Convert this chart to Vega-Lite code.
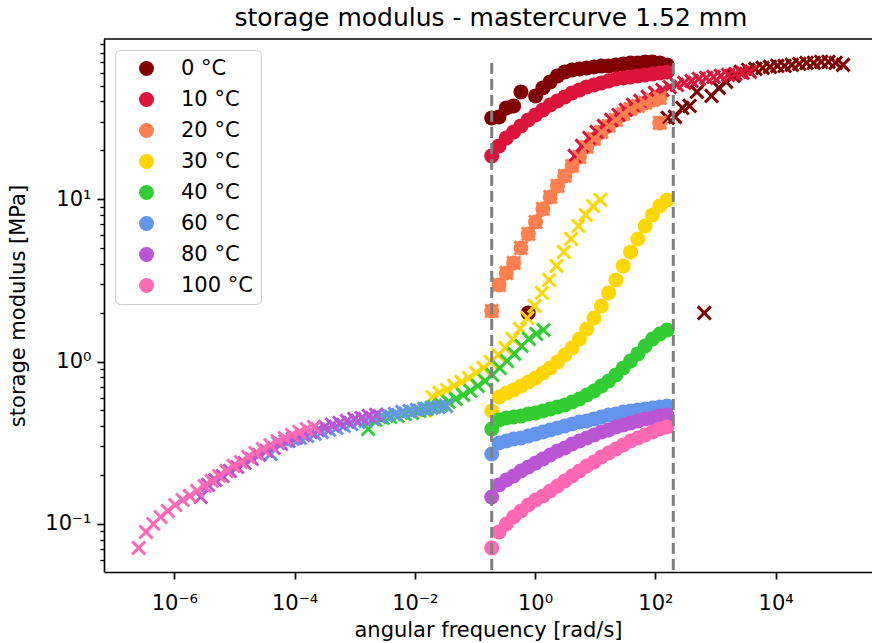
{
  "$schema": "https://vega.github.io/schema/vega-lite/v6.json",
  "width": 768,
  "height": 533,
  "autosize": "none",
  "padding": {"left": 104, "top": 39, "right": 0, "bottom": 71},
  "background": "white",
  "config": {
    "view": {"stroke": null},
    "font": "DejaVu Sans",
    "axis": {
      "domainColor": "black", "domainWidth": 1.7, "tickColor": "black", "tickWidth": 1.7, "tickSize": 7,
      "labelFont": "DejaVu Sans", "labelFontSize": 21, "labelColor": "black", "labelPadding": 6,
      "titleFont": "DejaVu Sans", "titleFontSize": 21, "titleFontWeight": "normal", "titleColor": "black",
      "grid": false, "labelFlush": false, "labelOverlap": false, "labelBound": false
    }
  },
  "title": {
    "text": "storage modulus - mastercurve 1.52 mm",
    "font": "DejaVu Sans", "fontSize": 25, "fontWeight": "normal", "color": "black",
    "anchor": "middle", "offset": 2, "dx": 3
  },
  "datasets": {
    "pts": [
      {"T":"0 °C","w":0.1901,"ws":160.7,"G":31.68},
      {"T":"0 °C","w":0.2515,"ws":212.6,"G":32.13},
      {"T":"0 °C","w":0.3327,"ws":281.2,"G":36.50},
      {"T":"0 °C","w":0.4400,"ws":372.0,"G":37.55},
      {"T":"0 °C","w":0.5821,"ws":492.0,"G":45.81},
      {"T":"0 °C","w":0.7700,"ws":650.9,"G":1.994},
      {"T":"0 °C","w":1.0185,"ws":860.9,"G":43.28},
      {"T":"0 °C","w":1.3473,"ws":1138.9,"G":48.49},
      {"T":"0 °C","w":1.7822,"ws":1506.5,"G":52.79},
      {"T":"0 °C","w":2.3576,"ws":1992.8,"G":57.48},
      {"T":"0 °C","w":3.1186,"ws":2636.1,"G":60.84},
      {"T":"0 °C","w":4.1252,"ws":3487,"G":62.58},
      {"T":"0 °C","w":5.4567,"ws":4612.6,"G":63.48},
      {"T":"0 °C","w":7.2181,"ws":6101.5,"G":64.39},
      {"T":"0 °C","w":9.548,"ws":8071.2,"G":65.31},
      {"T":"0 °C","w":12.630,"ws":10677,"G":66.25},
      {"T":"0 °C","w":16.707,"ws":14123,"G":66.25},
      {"T":"0 °C","w":22.100,"ws":18681,"G":67.19},
      {"T":"0 °C","w":29.235,"ws":24713,"G":68.16},
      {"T":"0 °C","w":38.672,"ws":32690,"G":69.12},
      {"T":"0 °C","w":51.155,"ws":43241,"G":69.12},
      {"T":"0 °C","w":67.668,"ws":57200,"G":70.12},
      {"T":"0 °C","w":89.511,"ws":75664,"G":70.12},
      {"T":"0 °C","w":118.41,"ws":100090,"G":69.12},
      {"T":"0 °C","w":156.62,"ws":132394,"G":67.19},

      {"T":"10 °C","w":0.1901,"ws":4.560,"G":18.48},
      {"T":"10 °C","w":0.2515,"ws":6.032,"G":21.30},
      {"T":"10 °C","w":0.3327,"ws":7.979,"G":23.86},
      {"T":"10 °C","w":0.4400,"ws":10.555,"G":25.97},
      {"T":"10 °C","w":0.5821,"ws":13.962,"G":28.29},
      {"T":"10 °C","w":0.7700,"ws":18.469,"G":30.79},
      {"T":"10 °C","w":1.0185,"ws":24.430,"G":33.05},
      {"T":"10 °C","w":1.3473,"ws":32.316,"G":35.48},
      {"T":"10 °C","w":1.7822,"ws":42.748,"G":38.09},
      {"T":"10 °C","w":2.3576,"ws":56.549,"G":40.32},
      {"T":"10 °C","w":3.1186,"ws":74.802,"G":42.67},
      {"T":"10 °C","w":4.1252,"ws":98.947,"G":45.16},
      {"T":"10 °C","w":5.4567,"ws":130.89,"G":47.13},
      {"T":"10 °C","w":7.2181,"ws":173.13,"G":49.18},
      {"T":"10 °C","w":9.548,"ws":229.03,"G":50.58},
      {"T":"10 °C","w":12.630,"ws":302.96,"G":52.04},
      {"T":"10 °C","w":16.707,"ws":400.75,"G":53.54},
      {"T":"10 °C","w":22.100,"ws":530.10,"G":55.08},
      {"T":"10 °C","w":29.235,"ws":701.24,"G":55.88},
      {"T":"10 °C","w":38.672,"ws":927.6,"G":56.67},
      {"T":"10 °C","w":51.155,"ws":1227.0,"G":57.48},
      {"T":"10 °C","w":67.668,"ws":1623.1,"G":58.30},
      {"T":"10 °C","w":89.511,"ws":2147.0,"G":59.14},
      {"T":"10 °C","w":118.41,"ws":2840.1,"G":59.98},
      {"T":"10 °C","w":156.62,"ws":3756.8,"G":60.84},

      {"T":"20 °C","w":0.1901,"ws":0.1901,"G":2.051},
      {"T":"20 °C","w":0.2515,"ws":0.2515,"G":2.966},
      {"T":"20 °C","w":0.3327,"ws":0.3327,"G":3.516},
      {"T":"20 °C","w":0.4400,"ws":0.4400,"G":4.052},
      {"T":"20 °C","w":0.5821,"ws":0.5821,"G":5.012},
      {"T":"20 °C","w":0.7700,"ws":0.7700,"G":6.113},
      {"T":"20 °C","w":1.0185,"ws":1.0185,"G":7.248},
      {"T":"20 °C","w":1.3473,"ws":1.3473,"G":8.714},
      {"T":"20 °C","w":1.7822,"ws":1.7822,"G":10.33},
      {"T":"20 °C","w":2.3576,"ws":2.3576,"G":12.08},
      {"T":"20 °C","w":3.1186,"ws":3.1186,"G":13.92},
      {"T":"20 °C","w":4.1252,"ws":4.1252,"G":16.04},
      {"T":"20 °C","w":5.4567,"ws":5.4567,"G":18.22},
      {"T":"20 °C","w":7.2181,"ws":7.2181,"G":21.00},
      {"T":"20 °C","w":9.548,"ws":9.548,"G":23.52},
      {"T":"20 °C","w":12.630,"ws":12.630,"G":25.97},
      {"T":"20 °C","w":16.707,"ws":16.707,"G":28.29},
      {"T":"20 °C","w":22.100,"ws":22.100,"G":30.79},
      {"T":"20 °C","w":29.235,"ws":29.235,"G":33.53},
      {"T":"20 °C","w":38.672,"ws":38.672,"G":36.00},
      {"T":"20 °C","w":51.155,"ws":51.155,"G":37.55},
      {"T":"20 °C","w":67.668,"ws":67.668,"G":39.19},
      {"T":"20 °C","w":89.511,"ws":89.511,"G":40.89},
      {"T":"20 °C","w":118.41,"ws":118.41,"G":42.07},
      {"T":"20 °C","w":118.41,"ws":118.41,"G":29.51},

      {"T":"30 °C","w":0.1901,"ws":0.014757,"G":0.4966},
      {"T":"30 °C","w":0.2515,"ws":0.019521,"G":0.6058},
      {"T":"30 °C","w":0.3327,"ws":0.025822,"G":0.6412},
      {"T":"30 °C","w":0.4400,"ws":0.034157,"G":0.6691},
      {"T":"30 °C","w":0.5821,"ws":0.045183,"G":0.7079},
      {"T":"30 °C","w":0.7700,"ws":0.059769,"G":0.7494},
      {"T":"30 °C","w":1.0185,"ws":0.079061,"G":0.7930},
      {"T":"30 °C","w":1.3473,"ws":0.10458,"G":0.8514},
      {"T":"30 °C","w":1.7822,"ws":0.13834,"G":0.9139},
      {"T":"30 °C","w":2.3576,"ws":0.18300,"G":0.9950},
      {"T":"30 °C","w":3.1186,"ws":0.24207,"G":1.099},
      {"T":"30 °C","w":4.1252,"ws":0.32021,"G":1.214},
      {"T":"30 °C","w":5.4567,"ws":0.42357,"G":1.379},
      {"T":"30 °C","w":7.2181,"ws":0.56029,"G":1.589},
      {"T":"30 °C","w":9.548,"ws":0.74117,"G":1.857},
      {"T":"30 °C","w":12.630,"ws":0.98043,"G":2.202},
      {"T":"30 °C","w":16.707,"ws":1.2969,"G":2.648},
      {"T":"30 °C","w":22.100,"ws":1.7155,"G":3.184},
      {"T":"30 °C","w":29.235,"ws":2.2693,"G":3.884},
      {"T":"30 °C","w":38.672,"ws":3.0019,"G":4.736},
      {"T":"30 °C","w":51.155,"ws":3.9708,"G":5.693},
      {"T":"30 °C","w":67.668,"ws":5.2526,"G":6.847},
      {"T":"30 °C","w":89.511,"ws":6.9482,"G":8.005},
      {"T":"30 °C","w":118.41,"ws":9.1911,"G":9.094},
      {"T":"30 °C","w":156.62,"ws":12.158,"G":9.901},

      {"T":"40 °C","w":0.1901,"ws":0.0016788,"G":0.3847},
      {"T":"40 °C","w":0.2515,"ws":0.0022207,"G":0.4372},
      {"T":"40 °C","w":0.3327,"ws":0.0029376,"G":0.4498},
      {"T":"40 °C","w":0.4400,"ws":0.0038857,"G":0.4562},
      {"T":"40 °C","w":0.5821,"ws":0.0051401,"G":0.4627},
      {"T":"40 °C","w":0.7700,"ws":0.0067995,"G":0.4760},
      {"T":"40 °C","w":1.0185,"ws":0.0089942,"G":0.4828},
      {"T":"40 °C","w":1.3473,"ws":0.011897,"G":0.4966},
      {"T":"40 °C","w":1.7822,"ws":0.015738,"G":0.5109},
      {"T":"40 °C","w":2.3576,"ws":0.020819,"G":0.5257},
      {"T":"40 °C","w":3.1186,"ws":0.027539,"G":0.5408},
      {"T":"40 °C","w":4.1252,"ws":0.036428,"G":0.5643},
      {"T":"40 °C","w":5.4567,"ws":0.048187,"G":0.5888},
      {"T":"40 °C","w":7.2181,"ws":0.063741,"G":0.6232},
      {"T":"40 °C","w":9.548,"ws":0.084318,"G":0.6596},
      {"T":"40 °C","w":12.630,"ws":0.11154,"G":0.7079},
      {"T":"40 °C","w":16.707,"ws":0.14754,"G":0.7601},
      {"T":"40 °C","w":22.100,"ws":0.19516,"G":0.8277},
      {"T":"40 °C","w":29.235,"ws":0.25817,"G":0.9139},
      {"T":"40 °C","w":38.672,"ws":0.34150,"G":1.009},
      {"T":"40 °C","w":51.155,"ws":0.45173,"G":1.115},
      {"T":"40 °C","w":67.668,"ws":0.59755,"G":1.248},
      {"T":"40 °C","w":89.511,"ws":0.79045,"G":1.379},
      {"T":"40 °C","w":118.41,"ws":1.0456,"G":1.480},
      {"T":"40 °C","w":156.62,"ws":1.3831,"G":1.566},

      {"T":"60 °C","w":0.1901,"ws":0.000040179,"G":0.2699},
      {"T":"60 °C","w":0.2515,"ws":0.000053149,"G":0.3155},
      {"T":"60 °C","w":0.3327,"ws":0.000070305,"G":0.3245},
      {"T":"60 °C","w":0.4400,"ws":0.000092998,"G":0.3339},
      {"T":"60 °C","w":0.5821,"ws":0.00012302,"G":0.3386},
      {"T":"60 °C","w":0.7700,"ws":0.00016273,"G":0.3483},
      {"T":"60 °C","w":1.0185,"ws":0.00021526,"G":0.3584},
      {"T":"60 °C","w":1.3473,"ws":0.00028474,"G":0.3687},
      {"T":"60 °C","w":1.7822,"ws":0.00037666,"G":0.3793},
      {"T":"60 °C","w":2.3576,"ws":0.00049826,"G":0.3902},
      {"T":"60 °C","w":3.1186,"ws":0.00065910,"G":0.4015},
      {"T":"60 °C","w":4.1252,"ws":0.00087184,"G":0.4130},
      {"T":"60 °C","w":5.4567,"ws":0.0011533,"G":0.4249},
      {"T":"60 °C","w":7.2181,"ws":0.0015255,"G":0.4310},
      {"T":"60 °C","w":9.548,"ws":0.0020180,"G":0.4435},
      {"T":"60 °C","w":12.630,"ws":0.0026694,"G":0.4562},
      {"T":"60 °C","w":16.707,"ws":0.0035311,"G":0.4693},
      {"T":"60 °C","w":22.100,"ws":0.0046708,"G":0.4760},
      {"T":"60 °C","w":29.235,"ws":0.0061787,"G":0.4897},
      {"T":"60 °C","w":38.672,"ws":0.0081732,"G":0.4966},
      {"T":"60 °C","w":51.155,"ws":0.010811,"G":0.5037},
      {"T":"60 °C","w":67.668,"ws":0.014301,"G":0.5109},
      {"T":"60 °C","w":89.511,"ws":0.018918,"G":0.5183},
      {"T":"60 °C","w":118.41,"ws":0.025025,"G":0.5257},
      {"T":"60 °C","w":156.62,"ws":0.033102,"G":0.5332},

      {"T":"80 °C","w":0.1901,"ws":0.0000027542,"G":0.1467},
      {"T":"80 °C","w":0.2515,"ws":0.0000036433,"G":0.1739},
      {"T":"80 °C","w":0.3327,"ws":0.0000048193,"G":0.1866},
      {"T":"80 °C","w":0.4400,"ws":0.0000063749,"G":0.1975},
      {"T":"80 °C","w":0.5821,"ws":0.0000084328,"G":0.2121},
      {"T":"80 °C","w":0.7700,"ws":0.000011155,"G":0.2244},
      {"T":"80 °C","w":1.0185,"ws":0.000014756,"G":0.2375},
      {"T":"80 °C","w":1.3473,"ws":0.000019519,"G":0.2513},
      {"T":"80 °C","w":1.7822,"ws":0.000025820,"G":0.2661},
      {"T":"80 °C","w":2.3576,"ws":0.000034155,"G":0.2817},
      {"T":"80 °C","w":3.1186,"ws":0.000045180,"G":0.2938},
      {"T":"80 °C","w":4.1252,"ws":0.000059764,"G":0.3111},
      {"T":"80 °C","w":5.4567,"ws":0.000079054,"G":0.3245},
      {"T":"80 °C","w":7.2181,"ws":0.00010457,"G":0.3386},
      {"T":"80 °C","w":9.548,"ws":0.00013833,"G":0.3533},
      {"T":"80 °C","w":12.630,"ws":0.00018298,"G":0.3687},
      {"T":"80 °C","w":16.707,"ws":0.00024205,"G":0.3793},
      {"T":"80 °C","w":22.100,"ws":0.00032018,"G":0.3959},
      {"T":"80 °C","w":29.235,"ws":0.00042354,"G":0.4073},
      {"T":"80 °C","w":38.672,"ws":0.00056026,"G":0.4190},
      {"T":"80 °C","w":51.155,"ws":0.00074110,"G":0.4310},
      {"T":"80 °C","w":67.668,"ws":0.00098033,"G":0.4435},
      {"T":"80 °C","w":89.511,"ws":0.0012968,"G":0.4498},
      {"T":"80 °C","w":118.41,"ws":0.0017154,"G":0.4627},
      {"T":"80 °C","w":156.62,"ws":0.0022691,"G":0.4693},

      {"T":"100 °C","w":0.1901,"ws":0.00000025586,"G":0.0712},
      {"T":"100 °C","w":0.2515,"ws":0.00000033845,"G":0.0893},
      {"T":"100 °C","w":0.3327,"ws":0.00000044770,"G":0.1000},
      {"T":"100 °C","w":0.4400,"ws":0.00000059221,"G":0.1104},
      {"T":"100 °C","w":0.5821,"ws":0.00000078339,"G":0.1202},
      {"T":"100 °C","w":0.7700,"ws":0.0000010363,"G":0.1309},
      {"T":"100 °C","w":1.0185,"ws":0.0000013708,"G":0.1405},
      {"T":"100 °C","w":1.3473,"ws":0.0000018133,"G":0.1488},
      {"T":"100 °C","w":1.7822,"ws":0.0000023986,"G":0.1597},
      {"T":"100 °C","w":2.3576,"ws":0.0000031729,"G":0.1714},
      {"T":"100 °C","w":3.1186,"ws":0.0000041971,"G":0.1840},
      {"T":"100 °C","w":4.1252,"ws":0.0000055519,"G":0.1975},
      {"T":"100 °C","w":5.4567,"ws":0.0000073439,"G":0.2121},
      {"T":"100 °C","w":7.2181,"ws":0.0000097145,"G":0.2277},
      {"T":"100 °C","w":9.548,"ws":0.000012851,"G":0.2409},
      {"T":"100 °C","w":12.630,"ws":0.000016999,"G":0.2587},
      {"T":"100 °C","w":16.707,"ws":0.000022486,"G":0.2737},
      {"T":"100 °C","w":22.100,"ws":0.000029744,"G":0.2897},
      {"T":"100 °C","w":29.235,"ws":0.000039346,"G":0.3066},
      {"T":"100 °C","w":38.672,"ws":0.000052047,"G":0.3245},
      {"T":"100 °C","w":51.155,"ws":0.000068847,"G":0.3386},
      {"T":"100 °C","w":67.668,"ws":0.000091071,"G":0.3533},
      {"T":"100 °C","w":89.511,"ws":0.00012047,"G":0.3687},
      {"T":"100 °C","w":118.41,"ws":0.00015936,"G":0.3847},
      {"T":"100 °C","w":156.62,"ws":0.00021079,"G":0.3959}
    ],
    "window": [{"w": 0.19}, {"w": 199}]
  },
  "layer": [
    {
      "data": {"name": "pts"},
      "mark": {"type": "circle", "size": 225, "opacity": 1},
      "encoding": {
        "x": {
          "field": "w", "type": "quantitative", "title": "angular frequency [rad/s]",
          "scale": {"type": "log", "domain": [6.78e-8, 4.01e5], "nice": false},
          "axis": {
            "values": [1e-6, 1e-4, 0.01, 1, 100, 10000],
            "labelExpr": "datum.value == 1e-6 ? '10⁻⁶' : datum.value == 1e-4 ? '10⁻⁴' : datum.value == 0.01 ? '10⁻²' : datum.value == 1 ? '10⁰' : datum.value == 100 ? '10²' : '10⁴'",
            "labelBaseline": "alphabetic",
            "labelPadding": 30,
            "titlePadding": 6
          }
        },
        "y": {
          "field": "G", "type": "quantitative", "title": "storage modulus [MPa]",
          "scale": {"type": "log", "domain": [0.0506, 97.0], "nice": false},
          "axis": {
            "values": [0.06,0.07,0.08,0.09,0.1,0.2,0.3,0.4,0.5,0.6,0.7,0.8,0.9,1,2,3,4,5,6,7,8,9,10,20,30,40,50,60,70,80,90],
            "labelExpr": "datum.value == 0.1 ? '10⁻¹' : datum.value == 1 ? '10⁰' : datum.value == 10 ? '10¹' : ''",
            "tickSize": {"condition": {"test": "datum.value == 0.1 || datum.value == 1 || datum.value == 10", "value": 7}, "value": 4.2},
            "tickWidth": {"condition": {"test": "datum.value == 0.1 || datum.value == 1 || datum.value == 10", "value": 1.7}, "value": 1.3},
            "titlePadding": 16
          }
        },
        "color": {
          "field": "T", "type": "nominal",
          "scale": {
            "domain": ["0 °C","10 °C","20 °C","30 °C","40 °C","60 °C","80 °C","100 °C"],
            "range": ["#800000","#dc143c","#ff7f50","#ffd700","#32cd32","#6495ed","#ba55d3","#ff69b4"]
          },
          "legend": {
            "title": null, "orient": "none", "legendX": 11, "legendY": 11,
            "symbolType": "circle", "symbolSize": 225, "symbolStrokeWidth": 0, "symbolOffset": 13,
            "labelFont": "DejaVu Sans", "labelFontSize": 21, "labelColor": "black", "labelOffset": 24,
            "rowPadding": 9, "padding": 8,
            "strokeColor": "#cccccc", "cornerRadius": 5, "fillColor": "white"
          }
        }
      }
    },
    {
      "data": {"name": "pts"},
      "mark": {"type": "point", "shape": "M -1 -1 L 1 1 M -1 1 L 1 -1", "filled": false, "size": 170, "strokeWidth": 3, "opacity": 1},
      "encoding": {
        "x": {"field": "ws", "type": "quantitative", "title": "angular frequency [rad/s]"},
        "y": {"field": "G", "type": "quantitative", "title": "storage modulus [MPa]"},
        "color": {"field": "T", "type": "nominal", "legend": null}
      }
    },
    {
      "data": {"name": "window"},
      "mark": {"type": "rule", "color": "#808080", "strokeWidth": 3, "strokeDash": [11, 5]},
      "encoding": {
        "x": {"field": "w", "type": "quantitative", "title": "angular frequency [rad/s]"},
        "y": {"datum": 69},
        "y2": {"datum": 0.0506}
      }
    },
    {
      "data": {"values": [{}]},
      "mark": {"type": "rule", "color": "black", "strokeWidth": 1.7},
      "encoding": {
        "y": {"datum": 97.0}
      }
    }
  ]
}
